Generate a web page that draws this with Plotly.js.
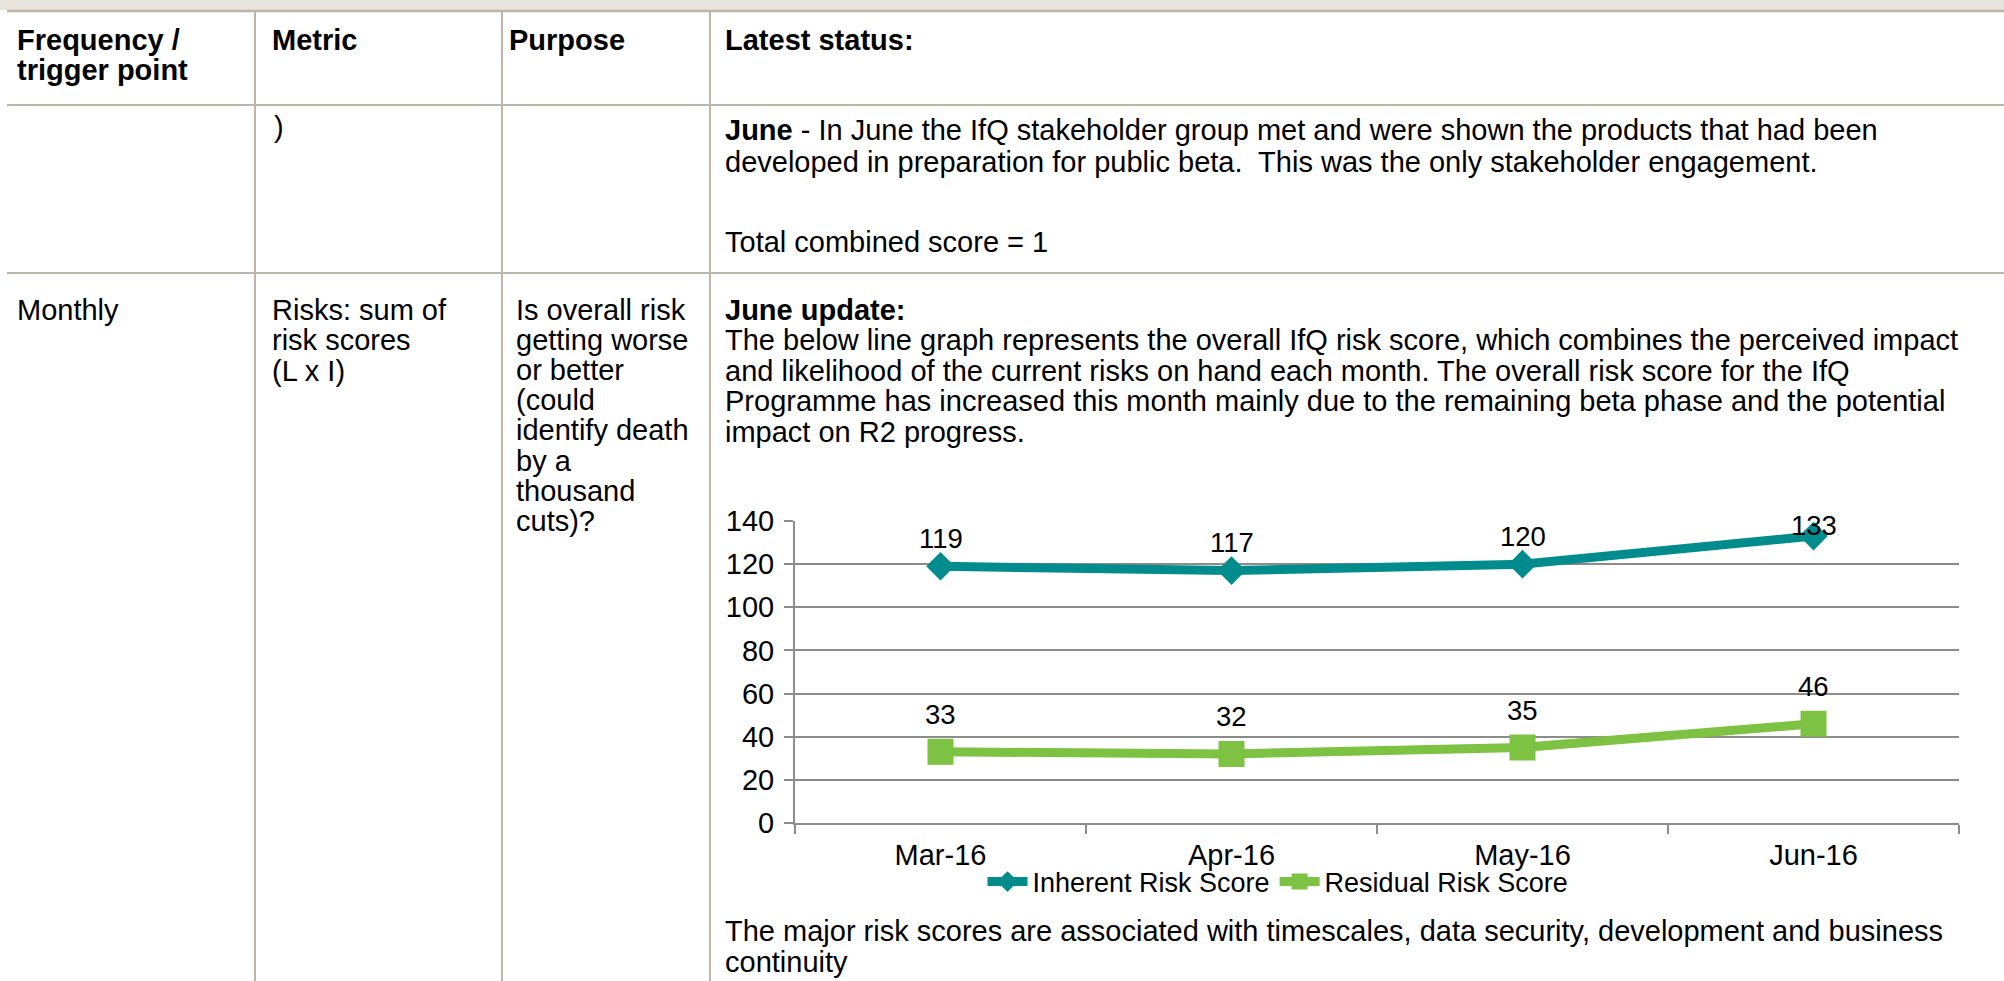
<!DOCTYPE html>
<html>
<head>
<meta charset="utf-8">
<script src="https://cdn.plot.ly/plotly-3.0.1.min.js"></script>
<style>
html,body{margin:0;padding:0;background:#fff;}
#chart{width:2004px;height:981px;}
</style>
</head>
<body>
<div id="chart"></div>
<script>
// ---- data ----
const months = ["Mar-16", "Apr-16", "May-16", "Jun-16"];
const inherentRisk = [119, 117, 120, 133];
const residualRisk = [33, 32, 35, 46];
const seriesNames = ["Inherent Risk Score", "Residual Risk Score"];
const yTicks = [0, 20, 40, 60, 80, 100, 120, 140];

const headerCells = ["Frequency /", "trigger point", "Metric", "Purpose", "Latest status:"];
const row2Metric = [")"];
const row2Status = [
  "<b>June</b> - In June the IfQ stakeholder group met and were shown the products that had been",
  "developed in preparation for public beta.  This was the only stakeholder engagement."
];
const row2Total = ["Total combined score = 1"];
const row3Frequency = ["Monthly"];
const row3Metric = ["Risks: sum of", "risk scores", "(L x I)"];
const row3Purpose = ["Is overall risk", "getting worse", "or better", "(could", "identify death", "by a", "thousand", "cuts)?"];
const row3Status = [
  "<b>June update:</b>",
  "The below line graph represents the overall IfQ risk score, which combines the perceived impact",
  "and likelihood of the current risks on hand each month. The overall risk score for the IfQ",
  "Programme has increased this month mainly due to the remaining beta phase and the potential",
  "impact on R2 progress."
];
const row3Footer = [
  "The major risk scores are associated with timescales, data security, development and business",
  "continuity"
];

// ---- layout helpers ----
const W = 2004, H = 981;
const px = x => x / W;
const py = y => 1 - y / H;
const FONT = "Arial, 'Liberation Sans', sans-serif";
const FS = 29;
const BORDER = "#bdb5a9";
const TEAL = "#008C8C";
const GREEN = "#7DC242";
const GRID = "#8c8c8c";

const plotTop = 521, plotBottom = 823, plotLeft = 795, plotRight = 1959;
const yMax = 140;

const shapes = [];
const annotations = [];

// top band
shapes.push({type:"rect", xref:"paper", yref:"paper", x0:0, x1:1, y0:py(0), y1:py(10), fillcolor:"#e9e5dc", line:{width:0}, layer:"below"});
// horizontal borders
[[11, 7, W, 2.5], [105, 7, W, 2], [273, 7, W, 2]].forEach(([y, a, b, w]) => {
  shapes.push({type:"line", xref:"paper", yref:"paper", x0:px(a), x1:px(b), y0:py(y), y1:py(y), line:{color:BORDER, width:w}});
});
// vertical borders
[255, 502, 710].forEach(x => {
  shapes.push({type:"line", xref:"paper", yref:"paper", x0:px(x), x1:px(x), y0:py(11), y1:py(H), line:{color:BORDER, width:2}});
});

function txt(s, x, y, bold) {
  annotations.push({xref:"paper", yref:"paper", x:px(x), y:py(y), xanchor:"left", yanchor:"middle",
    text: bold ? "<b>" + s + "</b>" : s, showarrow:false, align:"left",
    font:{family:FONT, size:FS, color:"#000"}});
}
function lines(arr, x, y0, step, bold) {
  arr.forEach((s, i) => { if (s) txt(s, x, y0 + i * step, bold); });
}

// header
lines(headerCells.slice(0, 2), 15, 40, 30, true);
txt(headerCells[2], 270, 40, true);
txt(headerCells[3], 507, 40, true);
txt(headerCells[4], 723, 40, true);

// row 2
lines(row2Metric, 272, 127, 30.5);
lines(row2Status, 723, 130, 32);
lines(row2Total, 723, 242, 30);

// row 3
lines(row3Frequency, 15, 310, 30.5);
lines(row3Metric, 270, 310, 30.5);
lines(row3Purpose, 514, 310, 30.1);
lines(row3Status, 723, 310, 30.5);
lines(row3Footer, 723, 931, 31);

// data labels
const LFS = 27.5;
const pxPerUnit = (plotBottom - plotTop) / yMax;
function labels(vals, shift) {
  vals.forEach((v, i) => {
    const room = (yMax - v) * pxPerUnit - 4;
    annotations.push({xref:"x", yref:"y", x:months[i], y:v, yshift:Math.min(shift, room),
      text:String(v), showarrow:false, xanchor:"center", yanchor:"middle",
      font:{family:FONT, size:LFS, color:"#000"}});
  });
}
labels(inherentRisk, 28);
labels(residualRisk, 37);

const traces = [
  {x:months, y:inherentRisk, name:seriesNames[0], type:"scatter", mode:"lines+markers",
   line:{color:TEAL, width:9}, marker:{symbol:"diamond", size:22, color:TEAL}},
  {x:months, y:residualRisk, name:seriesNames[1], type:"scatter", mode:"lines+markers",
   line:{color:GREEN, width:9}, marker:{symbol:"square", size:26, color:GREEN}}
];

const layout = {
  width: W, height: H,
  margin:{l:0, r:0, t:0, b:0, pad:0},
  paper_bgcolor:"#fff", plot_bgcolor:"rgba(0,0,0,0)",
  font:{family:FONT, size:FS, color:"#000"},
  showlegend:true,
  legend:{orientation:"h", x:px(1278), xanchor:"center", y:py(882), yanchor:"middle",
    font:{family:FONT, size:27, color:"#000"}, bgcolor:"rgba(0,0,0,0)", itemwidth:40, tracegroupgap:0},
  xaxis:{domain:[px(plotLeft), px(plotRight)], type:"category", range:[-0.5, 3.5],
    showgrid:false, zeroline:false, showline:true, linecolor:GRID, linewidth:2,
    ticks:"outside", tickson:"boundaries", ticklen:9, tickcolor:GRID, tickwidth:2,
    ticklabelstandoff:5,
    tickfont:{family:FONT, size:FS, color:"#000"}, fixedrange:true},
  yaxis:{domain:[py(plotBottom), py(plotTop)], range:[0, yMax], tickvals:yTicks,
    showgrid:true, gridcolor:GRID, gridwidth:2, zeroline:false,
    showline:true, linecolor:GRID, linewidth:2,
    ticks:"outside", ticklen:9, tickcolor:GRID, tickwidth:2,
    ticklabelstandoff:4,
    tickfont:{family:FONT, size:FS, color:"#000"}, fixedrange:true},
  shapes: shapes,
  annotations: annotations
};

Plotly.newPlot("chart", traces, layout, {displayModeBar:false, staticPlot:true});
</script>
</body>
</html>
